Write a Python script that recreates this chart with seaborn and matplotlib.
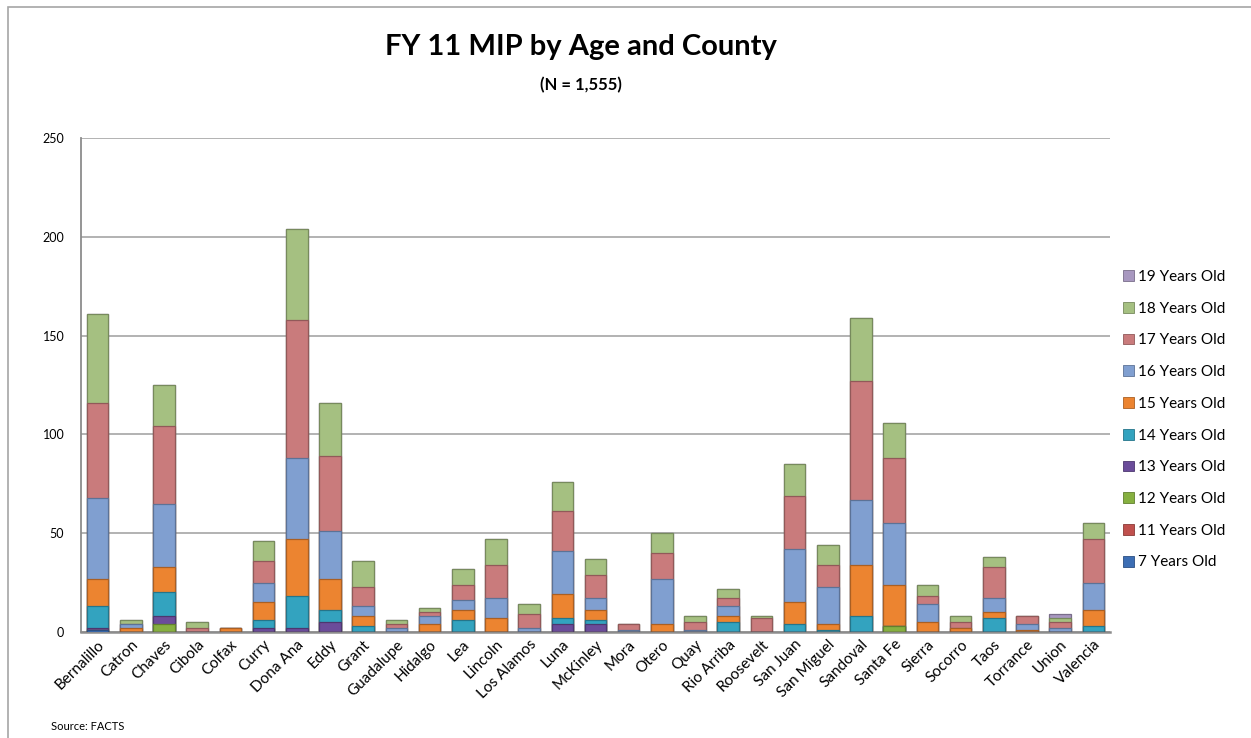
import numpy as np
import pandas as pd
import matplotlib
matplotlib.use("Agg")
import matplotlib.pyplot as plt
from matplotlib.patches import Patch, Rectangle
import seaborn as sns

counties = ["Bernalillo", "Catron", "Chaves", "Cibola", "Colfax", "Curry", "Dona Ana", "Eddy",
            "Grant", "Guadalupe", "Hidalgo", "Lea", "Lincoln", "Los Alamos", "Luna", "McKinley",
            "Mora", "Otero", "Quay", "Rio Arriba", "Roosevelt", "San Juan", "San Miguel", "Sandoval",
            "Santa Fe", "Sierra", "Socorro", "Taos", "Torrance", "Union", "Valencia"]

age7  = [1, 0, 0, 0, 0, 0, 0, 0, 0, 0, 0, 0, 0, 0, 0, 0, 0, 0, 0, 0, 0, 0, 0, 0, 0, 0, 0, 0, 0, 0, 0]
age11 = [0, 0, 0, 0, 0, 0, 0, 0, 0, 0, 0, 0, 0, 0, 0, 0, 0, 0, 0, 0, 0, 0, 0, 0, 0, 0, 0, 0, 0, 0, 0]
age12 = [0, 0, 4, 0, 0, 0, 0, 0, 0, 0, 0, 0, 0, 0, 0, 0, 0, 0, 0, 0, 0, 0, 0, 0, 3, 0, 0, 0, 0, 0, 0]
age13 = [1, 0, 4, 0, 0, 2, 2, 5, 0, 0, 0, 0, 0, 0, 4, 4, 0, 0, 0, 0, 0, 0, 0, 0, 0, 0, 0, 0, 0, 0, 0]
age14 = [11, 0, 12, 0, 0, 4, 16, 6, 3, 0, 0, 6, 0, 0, 3, 2, 0, 0, 0, 5, 0, 4, 1, 8, 0, 0, 0, 7, 0, 0, 3]
age15 = [14, 2, 13, 0, 2, 9, 29, 16, 5, 0, 4, 5, 7, 0, 12, 5, 0, 4, 0, 3, 0, 11, 3, 26, 21, 5, 2, 3, 1, 0, 8]
age16 = [41, 2, 32, 0, 0, 10, 41, 24, 5, 2, 4, 5, 10, 2, 22, 6, 1, 23, 1, 5, 0, 27, 19, 33, 31, 9, 0, 7, 3, 2, 14]
age17 = [48, 0, 39, 2, 0, 11, 70, 38, 10, 2, 2, 8, 17, 7, 20, 12, 3, 13, 4, 4, 7, 27, 11, 60, 33, 4, 3, 16, 4, 3, 22]
age18 = [45, 2, 21, 3, 0, 10, 46, 27, 13, 2, 2, 8, 13, 5, 15, 8, 0, 10, 3, 5, 1, 16, 10, 32, 18, 6, 3, 5, 0, 2, 8]
age19 = [0, 0, 0, 0, 0, 0, 0, 0, 0, 0, 0, 0, 0, 0, 0, 0, 0, 0, 0, 0, 0, 0, 0, 0, 0, 0, 0, 0, 0, 2, 0]

series_labels = ["7 Years Old", "11 Years Old", "12 Years Old", "13 Years Old", "14 Years Old",
                 "15 Years Old", "16 Years Old", "17 Years Old", "18 Years Old", "19 Years Old"]
series_values = [age7, age11, age12, age13, age14, age15, age16, age17, age18, age19]
colors = ["#3C6EB4", "#C0504D", "#86B040", "#6B4C9A", "#33A3BF",
          "#EC8430", "#809FD0", "#C97B7C", "#A5C081", "#A898C0"]
yticks = [0, 50, 100, 150, 200, 250]

sns.set_theme(style="white")
FONT = ["Lato", "DejaVu Sans"]
plt.rcParams["font.family"] = FONT
plt.rcParams["text.color"] = "black"
plt.rcParams["xtick.color"] = "black"
plt.rcParams["ytick.color"] = "black"

fig = plt.figure(figsize=(12.51, 7.38), dpi=100)
ax = fig.add_axes([81 / 1251, 1 - 632 / 738, (1110 - 81) / 1251, (632 - 138) / 738])

# Cumulative sums; draw from the top series down so each bar covers the lower part
df = pd.DataFrame({lab: vals for lab, vals in zip(series_labels, series_values)}, index=counties)
cum = df.cumsum(axis=1)

def darker(c, f=0.72):
    r, g, b = matplotlib.colors.to_rgb(c)
    return (r * f, g * f, b * f)

for lab, col in reversed(list(zip(series_labels, colors))):
    sns.barplot(x=counties, y=cum[lab].values, order=counties, color=col, saturation=1,
                width=0.65, edgecolor=darker(col), linewidth=0.9, ax=ax, zorder=3)

ax.set_ylim(0, 250)
ax.set_xlim(-0.5, len(counties) - 0.5)
ax.set_yticks(yticks)
ax.set_yticklabels([str(v) for v in yticks], fontsize=9)
ax.yaxis.grid(True, color="#A6A6A6", linewidth=1.2, zorder=0)
ax.set_axisbelow(True)
ax.set_xlabel("")
ax.set_ylabel("")
for s in ["top", "right"]:
    ax.spines[s].set_visible(False)
ax.spines["left"].set_color("#8C8C8C")
ax.spines["left"].set_linewidth(1.3)
ax.spines["bottom"].set_color("#8C8C8C")
ax.spines["bottom"].set_linewidth(1.8)
ax.tick_params(axis="both", length=0)
ax.tick_params(axis="y", pad=12)
ax.tick_params(axis="x", pad=4)
plt.setp(ax.get_xticklabels(), rotation=45, ha="right", rotation_mode="anchor", fontsize=11)

# Title and subtitle
fig.text(581 / 1251, 1 - 47 / 738, "FY 11 MIP by Age and County", ha="center", va="center",
         fontsize=21, fontweight="bold")
fig.text(581 / 1251, 1 - 85 / 738, "(N = 1,555)", ha="center", va="center",
         fontsize=12, fontweight="bold")
fig.text(51 / 1251, 1 - 727 / 738, "Source: FACTS", ha="left", va="center", fontsize=8)

# Outer chart border (left and top visible)
fig.add_artist(Rectangle((8 / 1251, -0.05), 1.1, 1 - 7 / 738 + 0.05, transform=fig.transFigure,
                         fill=False, edgecolor="#A6A6A6", linewidth=1.2))

handles = [Patch(facecolor=c, edgecolor=darker(c), linewidth=0.6) for c in colors]
leg = fig.legend(handles[::-1], series_labels[::-1], loc="upper left",
                 bbox_to_anchor=(1123 / 1251, 1 - 270 / 738), frameon=False,
                 fontsize=11, handlelength=0.7, handleheight=0.7, handletextpad=0.3,
                 labelspacing=1.16, borderpad=0, borderaxespad=0)

fig.savefig("out.png", dpi=100)
